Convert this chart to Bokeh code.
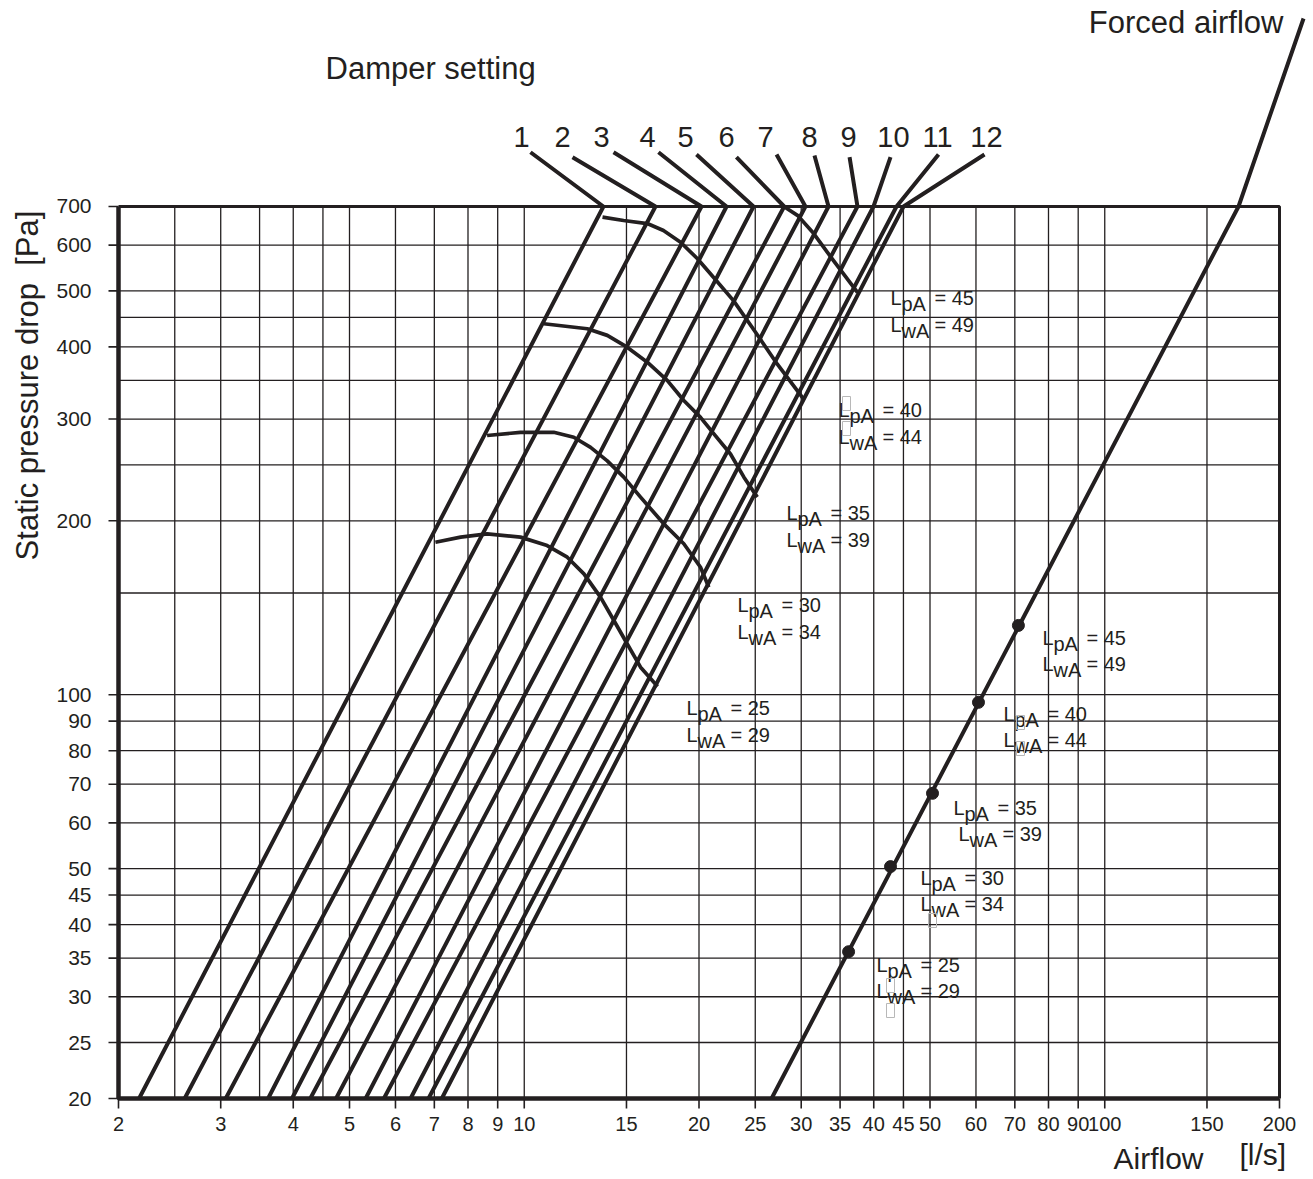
import numpy as np
from bokeh.plotting import figure
from bokeh.models import Range1d
from bokeh.core.properties import value
from bokeh.embed import file_html
from bokeh.resources import INLINE

# ---------------- values ----------------
damper_setting = ["1", "2", "3", "4", "5", "6", "7", "8", "9", "10", "11", "12"]
damper_q_20pa = [2.17, 2.60, 3.06, 3.62, 3.98, 4.28, 4.74, 5.33, 5.73, 6.37, 6.84, 7.21]
damper_q_700pa = [13.69, 16.83, 20.20, 22.31, 24.83, 28.04, 30.51, 33.43, 37.50, 39.96, 43.78, 45.01]
damper_lead_q = [10.25, 12.11, 14.25, 17.03, 19.80, 23.20, 27.20, 31.62, 36.34, 42.75, 51.72, 62.06]
damper_lead_p = [869, 852, 869, 869, 861, 852, 861, 858, 852, 852, 861, 861]

forced_q = [26.67, 170.0, 220.0]
forced_p = [20, 700, 1481]
forced_pt_q = [36.2, 42.75, 50.5, 60.6, 71.0]
forced_pt_p = [35.9, 50.4, 67.5, 97.0, 131.8]

lpa = [25, 30, 35, 40, 45]
lwa = [29, 34, 39, 44, 49]

iso25_q = [7.03, 7.77, 8.63, 9.85, 10.95, 11.86, 12.67, 13.53, 14.27, 15.04, 15.86, 16.72, 16.97]
iso25_p = [183.6, 187.4, 189.9, 187.4, 181.2, 173.0, 161.9, 147.5, 134.4, 122.5, 111.6, 105.1, 103.3]
iso30_q = [8.63, 9.85, 11.24, 12.17, 13.01, 13.90, 14.84, 15.86, 17.39, 18.83, 20.12, 20.79]
iso30_p = [281.0, 284.6, 284.6, 279.0, 268.0, 254.0, 238.0, 219.8, 197.6, 182.5, 166.2, 153.5]
iso35_q = [10.81, 12.84, 13.90, 15.04, 16.29, 17.63, 18.83, 20.12, 21.20, 22.66, 23.90, 25.20]
iso35_p = [438.6, 430.0, 418.8, 399.5, 376.4, 350.0, 323.0, 302.0, 283.0, 261.0, 238.0, 219.8]
iso40_q = [13.64, 14.83, 16.29, 17.37, 18.59, 19.86, 21.18, 22.93, 25.03, 27.31, 30.2]
iso40_p = [671.0, 662.0, 654.0, 636.0, 607.0, 569.0, 528.0, 481.0, 424.0, 373.0, 326.0]
iso45_q = [28.0, 29.6, 31.5, 34.1, 37.5]
iso45_p = [700.0, 675.0, 629.0, 564.0, 497.0]

x_ticks = [2, 3, 4, 5, 6, 7, 8, 9, 10, 15, 20, 25, 30, 35, 40, 45, 50, 60, 70, 80, 90, 100, 150, 200]
y_ticks = [20, 25, 30, 35, 40, 45, 50, 60, 70, 80, 90, 100, 200, 300, 400, 500, 600, 700]
x_grid = [2.5, 3, 3.5, 4, 4.5, 5, 6, 7, 8, 9, 10, 15, 20, 25, 30, 35, 40, 45, 50, 60, 70, 80, 90, 100, 150]
y_grid = [25, 30, 35, 40, 45, 50, 60, 70, 80, 90, 100, 150, 200, 250, 300, 350, 400, 450, 500, 600]
Q_MIN, Q_MAX = 2, 200
P_MIN, P_MAX = 20, 700

# ---------------- layout (page pixels) ----------------
W, H = 1312, 1178
PAGE = 0
FX0, FY0 = 118, 1098          # page position of (Q_MIN, P_MIN)
PXD_X, PXD_Y = 580.5, 577.7    # pixels per decade


def q_at(px):
    return Q_MIN * 10 ** ((px - FX0) / PXD_X)


def p_at(py):
    return P_MIN * 10 ** ((FY0 - py) / PXD_Y)


INK = "#231f20"
FONT = value("Liberation Sans")

p = figure(width=W, height=H, x_axis_type="log", y_axis_type="log",
           x_range=Range1d(q_at(PAGE), q_at(PAGE + W)),
           y_range=Range1d(p_at(PAGE + H), p_at(PAGE)),
           toolbar_location=None, output_backend="svg",
           x_axis_location=None, y_axis_location=None, min_border=0)
p.outline_line_color = None
p.background_fill_color = "white"
p.border_fill_color = "white"
p.grid.grid_line_color = None
p.grid.visible = False

# grid
p.segment(x0=x_grid, y0=[P_MIN] * len(x_grid), x1=x_grid, y1=[P_MAX] * len(x_grid),
          line_color=INK, line_width=1.3)
p.segment(x0=[Q_MIN] * len(y_grid), y0=y_grid, x1=[Q_MAX] * len(y_grid), y1=y_grid,
          line_color=INK, line_width=1.3)

# frame
p.line([Q_MIN, Q_MAX, Q_MAX], [P_MAX, P_MAX, P_MIN], line_color=INK, line_width=3)
p.line([Q_MIN, Q_MIN, Q_MAX], [P_MAX, P_MIN, P_MIN], line_color=INK, line_width=4.5)

# ticks
p.segment(x0=[q_at(FX0 - 10)] * len(y_ticks), y0=y_ticks, x1=[Q_MIN] * len(y_ticks), y1=y_ticks,
          line_color=INK, line_width=1.6)
p.segment(x0=x_ticks, y0=[P_MIN] * len(x_ticks), x1=x_ticks, y1=[p_at(FY0 + 10)] * len(x_ticks),
          line_color=INK, line_width=1.6)

# tick labels
p.text(x=[q_at(91)] * len(y_ticks), y=y_ticks, text=[str(v) for v in y_ticks],
       text_align="right", text_baseline="middle", text_font=FONT,
       text_font_size="21px", text_color=INK)
p.text(x=x_ticks, y=[p_at(1123)] * len(x_ticks), text=[str(v) for v in x_ticks],
       text_align="center", text_baseline="middle", text_font=FONT,
       text_font_size="20px", text_color=INK)

# damper lines with leaders
xs = [[a, b, c] for a, b, c in zip(damper_q_20pa, damper_q_700pa, damper_lead_q)]
ys = [[P_MIN, P_MAX, d] for d in damper_lead_p]
p.multi_line(xs, ys, line_color=INK, line_width=4)

# iso sound curves
p.multi_line([iso25_q, iso30_q, iso35_q, iso40_q, iso45_q],
             [iso25_p, iso30_p, iso35_p, iso40_p, iso45_p],
             line_color=INK, line_width=3.7, line_join="round")

# forced airflow line and points
p.line(forced_q, forced_p, line_color=INK, line_width=4)
p.scatter(forced_pt_q, forced_pt_p, size=12, color=INK)

# damper numbers
num_px = [521, 562, 601, 647, 685, 726, 765, 809, 848, 893, 937, 986]
p.text(x=[q_at(v) for v in num_px], y=[p_at(136)] * 12, text=damper_setting,
       text_align="center", text_baseline="middle", text_font=FONT,
       text_font_size="29px", text_color=INK)

# titles
big = dict(text_font=FONT, text_font_size="31px", text_color=INK, text_baseline="middle")
p.text(x=[q_at(325)], y=[p_at(68)], text=["Damper setting"], text_align="left", **big)
p.text(x=[q_at(1283)], y=[p_at(22)], text=["Forced airflow"], text_align="right", **big)
p.text(x=[q_at(1113)], y=[p_at(1158)], text=["Airflow"], text_align="left",
       text_font=FONT, text_font_size="30px", text_color=INK, text_baseline="middle")
p.text(x=[q_at(1239)], y=[p_at(1154)], text=["[l/s]"], text_align="left",
       text_font=FONT, text_font_size="30px", text_color=INK, text_baseline="middle")
p.text(x=[q_at(27)], y=[p_at(385)], text=["Static pressure drop\u00a0\u00a0[Pa]"],
       text_align="center", angle=np.pi / 2, text_font=FONT, text_font_size="31px",
       text_color=INK, text_baseline="middle")

# sound level labels (L left edge, baseline of LpA line) in page pixels
damper_lab = [(686, 707), (737, 604), (786, 512), (838, 409), (890, 297)]
forced_lab = [(876, 964), (920, 877), (953, 807), (1003, 713), (1042, 637)]
forced_lw_dx = [0, 0, 5, 0, 0]
Lx, Ly, Sx, Sy, St, Vx, Vy, Vt = [], [], [], [], [], [], [], []


def add_label(px, py, sub, val):
    Lx.append(q_at(px)); Ly.append(p_at(py))
    Sx.append(q_at(px + 11)); Sy.append(p_at(py + 6)); St.append(sub)
    Vx.append(q_at(px + 44)); Vy.append(p_at(py)); Vt.append("= %d" % val)


for (px, py), a, b in zip(damper_lab, lpa, lwa):
    add_label(px, py, "pA", a)
    add_label(px, py + 27, "wA", b)
for (px, py), dx, a, b in zip(forced_lab, forced_lw_dx, lpa, lwa):
    add_label(px, py, "pA", a)
    add_label(px + dx, py + 26, "wA", b)

lab = dict(text_font=FONT, text_font_size="20px", text_color=INK,
           text_baseline="alphabetic", text_align="left")
p.text(x=Lx, y=Ly, text=["L"] * len(Lx), **lab)
p.text(x=Sx, y=Sy, text=St, **lab)
p.text(x=Vx, y=Vy, text=Vt, **lab)

# faint missing-glyph boxes present in the original
box_px = [(846, 403), (846, 428), (1020, 722), (1020, 748), (932, 920), (890, 985), (890, 1010)]
p.rect(x=[q_at(a) for a, b in box_px], y=[p_at(b) for a, b in box_px], width=8, height=14,
       width_units="screen", height_units="screen", fill_color=None,
       line_color="#b8b8b8", line_width=1)

open("out.html", "w").write(file_html(p, INLINE))
